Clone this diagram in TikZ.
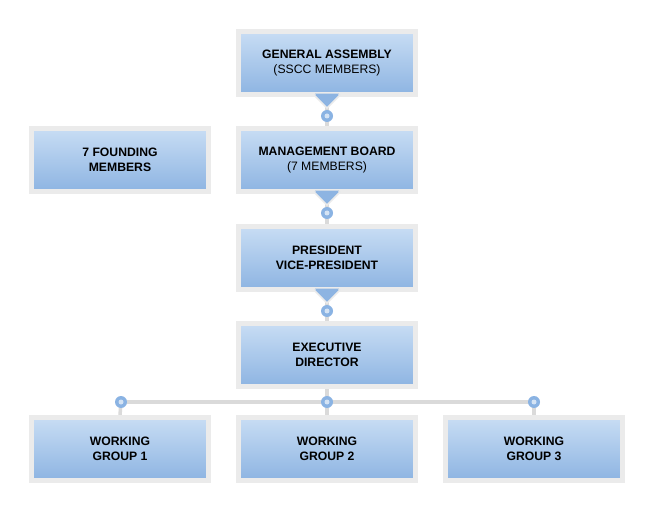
\documentclass[tikz,border=0pt]{standalone}
\usepackage{fontspec}
\setmainfont{Liberation Sans}
\usetikzlibrary{shadows}
\definecolor{framec}{HTML}{EBEBEB}
\definecolor{shadowc}{HTML}{BDB9C2}
\definecolor{topc}{HTML}{C8DDF4}
\definecolor{botc}{HTML}{8DB4E2}
\definecolor{linec}{HTML}{DADADA}
\definecolor{beadout}{HTML}{8AB3E3}
\definecolor{beadin}{HTML}{D4E3F4}
\tikzset{
  orgbox/.style={rectangle, minimum width=177pt, minimum height=63pt,
    top color=topc, bottom color=botc, draw=framec, line width=5pt,
    drop shadow={shadow xshift=2pt, shadow yshift=-2pt, fill=shadowc, opacity=1},
    align=center, font=\fontsize{12.2}{14.5}\selectfont\bfseries, text=black},
  link/.style={draw=linec, line width=3.5pt},
  bead/.style={circle, minimum size=12pt, inner sep=0pt, fill=beadout},
  beadcore/.style={circle, minimum size=5pt, inner sep=0pt, fill=beadin},
  pointer/.style={fill=botc, draw=framec, line width=1.5pt, line join=miter}
}
\begin{document}
\begin{tikzpicture}[x=1pt,y=-1pt]
\useasboundingbox[fill=white] (0,0) rectangle (664,521);
% boxes
\node[orgbox] (ga) at (327,63) {GENERAL ASSEMBLY\\\mdseries (SSCC MEMBERS)};
\node[orgbox] (mb) at (327,160) {MANAGEMENT BOARD\\\mdseries (7 MEMBERS)};
\node[orgbox] (fm) at (120,160) {7 FOUNDING\\MEMBERS};
\node[orgbox] (pr) at (327,258) {PRESIDENT\\VICE-PRESIDENT};
\node[orgbox] (ed) at (327,355) {EXECUTIVE\\DIRECTOR};
\node[orgbox] (wa) at (120,449) {WORKING\\GROUP 1};
\node[orgbox] (wb) at (327,449) {WORKING\\GROUP 2};
\node[orgbox] (wc) at (534,449) {WORKING\\GROUP 3};
% bead positions
\coordinate (b1) at (327,116);
\coordinate (b2) at (327,213);
\coordinate (b3) at (327,311);
\coordinate (ba) at (121,402);
\coordinate (bb) at (327,402);
\coordinate (bc) at (534,402);
% connectors
\path[link] (ga.south) -- (mb.north);
\path[link] (mb.south) -- (pr.north);
\path[link] (pr.south) -- (ed.north);
\path[link] (ed.south) -- (bb);
\path[link] (ba) -- (bc);
\path[link] (ba) -- (wa.north);
\path[link] (bb) -- (wb.north);
\path[link] (bc) -- (wc.north);
% redraw boxes on top of links
\node[orgbox] at (ga) {GENERAL ASSEMBLY\\\mdseries (SSCC MEMBERS)};
\node[orgbox] at (mb) {MANAGEMENT BOARD\\\mdseries (7 MEMBERS)};
\node[orgbox] at (pr) {PRESIDENT\\VICE-PRESIDENT};
\node[orgbox] at (ed) {EXECUTIVE\\DIRECTOR};
\node[orgbox] at (wa) {WORKING\\GROUP 1};
\node[orgbox] at (wb) {WORKING\\GROUP 2};
\node[orgbox] at (wc) {WORKING\\GROUP 3};
% pointers
\foreach \n in {ga,mb,pr}{
  \path[pointer] ([xshift=-13pt,yshift=2pt]\n.south) -- ([yshift=-11pt]\n.south) -- ([xshift=13pt,yshift=2pt]\n.south);
  \fill[botc] ([xshift=-12pt,yshift=3.4pt]\n.south) -- ([yshift=-9.5pt]\n.south) -- ([xshift=12pt,yshift=3.4pt]\n.south) -- cycle;
}
% beads
\foreach \b in {b1,b2,b3,ba,bb,bc}{
  \node[bead] at (\b) {};
  \node[beadcore] at (\b) {};
}
\end{tikzpicture}
\end{document}
